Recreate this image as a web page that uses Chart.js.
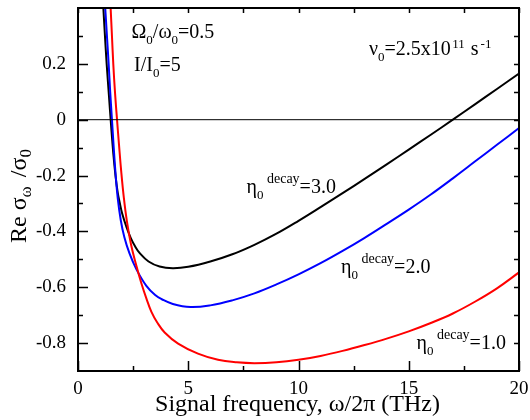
<!DOCTYPE html>
<html lang="en">
<head>
<meta charset="UTF-8">
<title>Re sigma vs signal frequency</title>
<script src="https://cdn.jsdelivr.net/npm/chart.js"></script>
<style>
  body { margin: 0; background: #fff; }
  #wrap { width: 530px; height: 420px; }
</style>
</head>
<body>
<div id="wrap"><canvas id="graph" width="530" height="420"></canvas></div>
<script>
// values: x = signal frequency (THz), y = Re sigma_w / sigma_0
const xEta3 = [1.10, 1.20, 1.30, 1.40, 1.50, 1.60, 1.70, 1.80, 1.90, 2.00, 2.20, 2.40, 2.60, 2.80, 3.20, 3.70, 4.30, 5.00, 6.00, 7.00, 8.00, 9.00, 10, 11, 12, 13, 14, 15, 16, 17, 18, 19, 20];
const yEta3 = [0.47, 0.33, 0.20, 0.09, -0.02, -0.12, -0.20, -0.26, -0.30, -0.335, -0.385, -0.425, -0.455, -0.478, -0.508, -0.526, -0.532, -0.527, -0.508, -0.482, -0.448, -0.408, -0.362, -0.313, -0.263, -0.212, -0.160, -0.107, -0.054, 0.000, 0.055, 0.110, 0.165];

const xEta2 = [1.18, 1.25, 1.32, 1.39, 1.46, 1.54, 1.62, 1.70, 1.80, 1.94, 2.10, 2.34, 2.65, 3.10, 3.50, 3.80, 4.30, 5.10, 6.00, 7.00, 8.00, 9.00, 10, 11, 12, 13, 14, 15, 16, 17, 18, 19, 20];
const yEta2 = [0.47, 0.38, 0.29, 0.20, 0.10, 0.00, -0.10, -0.19, -0.28, -0.36, -0.42, -0.48, -0.536, -0.595, -0.628, -0.643, -0.660, -0.671, -0.665, -0.647, -0.622, -0.590, -0.554, -0.514, -0.470, -0.423, -0.373, -0.322, -0.268, -0.210, -0.150, -0.090, -0.030];

const xEta1 = [1.40, 1.48, 1.54, 1.60, 1.68, 1.77, 1.86, 1.96, 2.08, 2.22, 2.40, 2.62, 2.87, 3.10, 3.33, 3.60, 3.93, 4.54, 5.44, 6.35, 7.20, 8.00, 9.00, 10, 11, 12, 13, 14, 15, 16, 17, 18, 19, 20];
const yEta1 = [0.53, 0.40, 0.30, 0.20, 0.095, 0.00, -0.09, -0.185, -0.28, -0.365, -0.445, -0.515, -0.585, -0.640, -0.688, -0.727, -0.762, -0.802, -0.838, -0.860, -0.869, -0.872, -0.869, -0.860, -0.846, -0.828, -0.807, -0.784, -0.758, -0.728, -0.694, -0.652, -0.604, -0.547];

const xRange = [0, 20];
const yRange = [-0.9, 0.4];
const xMajor = [0, 5, 10, 15, 20];
const xMinor = [2.5, 7.5, 12.5, 17.5];
const yMajor = [-0.8, -0.6, -0.4, -0.2, 0, 0.2];
const yMinor = [-0.7, -0.5, -0.3, -0.1, 0.1, 0.3];

const serif = '"Liberation Serif", "DejaVu Serif", serif';

function toPoints(xs, ys) {
    return xs.map((x, i) => ({ x: x, y: ys[i] }));
}

// draws a run of text pieces: [text, size, vertical shift, gap before]
function richText(ctx, parts, x, y) {
    let cx = x;
    parts.forEach(([t, size, dy, gap]) => {
        cx += gap || 0;
        ctx.font = size + 'px ' + serif;
        ctx.fillText(t, cx, y + dy);
        cx += ctx.measureText(t).width;
    });
}

const decorations = {
    id: 'decorations',
    afterDatasetsDraw(chart) {
        const { ctx, chartArea: a, scales } = chart;
        const sx = scales.x, sy = scales.y;
        ctx.save();
        ctx.strokeStyle = '#000';
        ctx.fillStyle = '#000';

        // frame
        ctx.lineWidth = 2;
        ctx.strokeRect(a.left, a.top, a.right - a.left, a.bottom - a.top);

        // tick marks, all pointing inward
        ctx.lineWidth = 1.5;
        ctx.beginPath();
        xMajor.concat(xMinor).forEach(v => {
            const px = Math.round(sx.getPixelForValue(v)) + 0.5;
            const len = xMajor.includes(v) ? 10 : 5;
            ctx.moveTo(px, a.bottom); ctx.lineTo(px, a.bottom - len);
            ctx.moveTo(px, a.top); ctx.lineTo(px, a.top + 5);
        });
        yMajor.concat(yMinor).forEach(v => {
            const py = Math.round(sy.getPixelForValue(v)) + 0.5;
            const len = yMajor.includes(v) ? 10 : 5;
            ctx.moveTo(a.left, py); ctx.lineTo(a.left + len, py);
            ctx.moveTo(a.right, py); ctx.lineTo(a.right - 5, py);
        });
        ctx.stroke();

        // annotations
        ctx.textAlign = 'left';
        ctx.textBaseline = 'alphabetic';
        richText(ctx, [['Ω', 20, 0], ['0', 13, 6], ['/ω', 20, 0], ['0', 13, 6], ['=0.5', 20, 0]], 131.5, 37.5);
        richText(ctx, [['I/I', 20, 0], ['0', 13, 6], ['=5', 20, 0]], 134, 71);
        richText(ctx, [['ν', 20, 0], ['0', 13, 6], ['=2.5x10', 20, 0], ['11', 13, -7, 1.5], [' s', 20, 0, 1], ['-1', 13, -7, 2]], 369, 54.5);
        richText(ctx, [['η', 20, 0], ['0', 13, 6], [' decay', 14, -10], ['=3.0', 20, 0]], 246.5, 193);
        richText(ctx, [['η', 20, 0], ['0', 13, 6], [' decay', 14, -10], ['=2.0', 20, 0]], 341, 272.5);
        richText(ctx, [['η', 20, 0], ['0', 13, 6], [' decay', 14, -10], ['=1.0', 20, 0]], 416.5, 349);

        // axis titles
        ctx.font = '24px ' + serif;
        ctx.textAlign = 'center';
        ctx.fillText('Signal frequency, ω/2π (THz)', 297.5, 411);

        ctx.translate(26, 243);
        ctx.rotate(-Math.PI / 2);
        ctx.textAlign = 'left';
        richText(ctx, [['Re σ', 24, 0], ['ω', 17, 5], [' /σ', 24, 0, 3], ['0', 17, 5]], 0, 0);
        ctx.restore();
    }
};

const lineStyle = { pointRadius: 0, borderWidth: 2, fill: false, tension: 0.4 };

// keep the plot box where the figure has it
function noEdgePadding(s) {
    s.paddingTop = 0;
    s.paddingBottom = 0;
    s.paddingLeft = 0;
    s.paddingRight = 0;
}

new Chart(document.getElementById('graph'), {
    type: 'line',
    data: {
        datasets: [
            { label: 'zero', data: toPoints(xRange, [0, 0]), borderColor: '#000', borderWidth: 1, pointRadius: 0 },
            Object.assign({ label: 'eta 1.0', data: toPoints(xEta1, yEta1), borderColor: '#ff0000' }, lineStyle),
            Object.assign({ label: 'eta 2.0', data: toPoints(xEta2, yEta2), borderColor: '#0000ff' }, lineStyle),
            Object.assign({ label: 'eta 3.0', data: toPoints(xEta3, yEta3), borderColor: '#000000' }, lineStyle)
        ]
    },
    options: {
        responsive: false,
        animation: false,
        events: [],
        layout: { padding: { top: 8, right: 11, left: 0, bottom: 0 } },
        plugins: { legend: { display: false }, tooltip: { enabled: false } },
        scales: {
            x: {
                type: 'linear',
                min: xRange[0],
                max: xRange[1],
                grid: { display: false },
                border: { display: false },
                ticks: {
                    color: '#000',
                    font: { family: serif, size: 19 },
                    padding: -1,
                    maxRotation: 0,
                    autoSkip: false,
                    callback: v => String(v)
                },
                afterBuildTicks: s => { s.ticks = xMajor.map(v => ({ value: v })); },
                afterFit: s => { s.height = 49; noEdgePadding(s); }
            },
            y: {
                type: 'linear',
                min: yRange[0],
                max: yRange[1],
                grid: { display: false },
                border: { display: false },
                ticks: {
                    color: '#000',
                    font: { family: serif, size: 19 },
                    padding: 4,
                    autoSkip: false,
                    callback: v => (Math.abs(v) < 1e-9 ? '0' : v.toFixed(1))
                },
                afterBuildTicks: s => { s.ticks = yMajor.map(v => ({ value: v })); },
                afterFit: s => { s.width = 78; noEdgePadding(s); }
            }
        }
    },
    plugins: [decorations]
});
</script>
</body>
</html>
